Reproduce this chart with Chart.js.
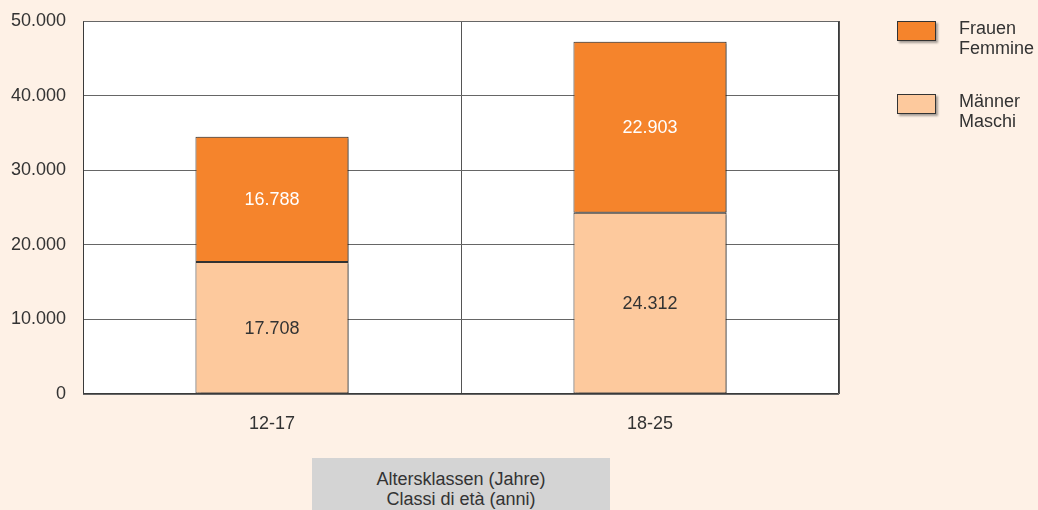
<!DOCTYPE html>
<html lang="de">
<head>
    <meta charset="UTF-8">
    <title>Altersklassen</title>
    <script src="https://cdn.jsdelivr.net/npm/chart.js"></script>
    <style>
        html, body { margin: 0; padding: 0; background: #fef1e6; overflow: hidden; }
        body { width: 1038px; height: 510px; position: relative; font-family: "Liberation Sans", Arial, sans-serif; color: #333; }
        #chart { position: absolute; left: 0; top: 0; }
        .legend { position: absolute; left: 897px; font-size: 18px; line-height: 20px; }
        .legend .box { position: absolute; left: 0; top: 1px; width: 39px; height: 20px; border: 1px solid #333; box-shadow: 2px 2px 2px rgba(0,0,0,0.35); box-sizing: border-box; }
        .legend .txt { position: absolute; left: 62px; top: -2px; white-space: nowrap; }
        #xtitle { position: absolute; left: 312px; top: 458px; width: 298px; height: 60px; background: #d4d4d4;
                  text-align: center; font-size: 18px; line-height: 20px; padding-top: 11px; box-sizing: border-box; }
    </style>
</head>
<body>
    <canvas id="chart" width="1038" height="510"></canvas>
    <div id="legend"></div>
    <div id="xtitle">Altersklassen (Jahre)<br>Classi di età (anni)</div>

    <script>
        // Daten
        const categories = ['12-17', '18-25'];
        const maenner = [17708, 24312];
        const frauen = [16788, 22903];
        const yTicks = [0, 10000, 20000, 30000, 40000, 50000];
        const seriesLabels = [['Frauen', 'Femmine'], ['Männer', 'Maschi']];

        const colFrauen = '#f5842c';
        const colMaenner = '#fdc99d';
        const FONT = '"Liberation Sans", Arial, sans-serif';

        // Zahl mit Tausenderpunkt
        function fmt(v) {
            return String(v).replace(/\B(?=(\d{3})+(?!\d))/g, '.');
        }

        // Legende
        const legend = document.getElementById('legend');
        [[seriesLabels[0], colFrauen, 20], [seriesLabels[1], colMaenner, 93]].forEach(function (it) {
            const d = document.createElement('div');
            d.className = 'legend';
            d.style.top = it[2] + 'px';
            d.innerHTML = '<div class="box" style="background:' + it[1] + '"></div><div class="txt">' + it[0].join('<br>') + '</div>';
            legend.appendChild(d);
        });

        // Hintergrund, Rahmen, Schatten und Werte
        const plotPlugin = {
            id: 'plot',
            beforeDraw(chart) {
                const a = chart.chartArea, ctx = chart.ctx;
                ctx.save();
                ctx.fillStyle = '#ffffff';
                ctx.fillRect(a.left, a.top, a.right - a.left, a.bottom - a.top);
                ctx.restore();
            },
            beforeDatasetsDraw(chart) {
                const ctx = chart.ctx;
                ctx.save();
                ctx.shadowColor = 'rgba(0,0,0,0.4)';
                ctx.shadowOffsetX = 2;
                ctx.shadowOffsetY = 0;
                ctx.shadowBlur = 1;
            },
            afterDatasetsDraw(chart) {
                const ctx = chart.ctx;
                ctx.restore();
                ctx.save();
                ctx.font = '18px ' + FONT;
                ctx.textAlign = 'center';
                ctx.textBaseline = 'middle';
                chart.data.datasets.forEach(function (ds, i) {
                    chart.getDatasetMeta(i).data.forEach(function (bar, j) {
                        ctx.fillStyle = i === 1 ? '#ffffff' : '#333333';
                        ctx.fillText(fmt(ds.data[j]), bar.x, (bar.y + bar.base) / 2 + 1);
                    });
                });
                ctx.restore();
            },
            afterDraw(chart) {
                const a = chart.chartArea, ctx = chart.ctx;
                ctx.save();
                ctx.strokeStyle = '#3a3a3a';
                ctx.lineWidth = 1;
                ctx.beginPath();
                ctx.moveTo(a.left + 0.5, a.top + 0.5);
                ctx.lineTo(a.left + 0.5, a.bottom - 0.5);
                ctx.lineTo(a.right - 0.5, a.bottom - 0.5);
                ctx.lineTo(a.right - 0.5, a.top + 0.5);
                ctx.stroke();
                ctx.restore();
            }
        };

        new Chart(document.getElementById('chart'), {
            type: 'bar',
            data: {
                labels: categories,
                datasets: [
                    { label: seriesLabels[1].join(' '), data: maenner, backgroundColor: colMaenner,
                      borderColor: '#333333', borderWidth: 1, borderSkipped: false },
                    { label: seriesLabels[0].join(' '), data: frauen, backgroundColor: colFrauen,
                      borderColor: '#333333', borderWidth: 1, borderSkipped: false }
                ]
            },
            options: {
                responsive: false,
                animation: false,
                layout: { padding: { left: 0, top: 21, right: 199, bottom: 0 } },
                plugins: { legend: { display: false }, tooltip: { enabled: false } },
                datasets: { bar: { categoryPercentage: 1, barPercentage: 0.405 } },
                scales: {
                    x: {
                        stacked: true,
                        offset: true,
                        grid: { offset: true, color: '#555555', drawTicks: false },
                        border: { display: false },
                        ticks: { padding: 19, color: '#333333', font: { size: 18, family: FONT } },
                        afterFit(s) { s.height = 116; s.paddingLeft = 0; s.paddingRight = 0; }
                    },
                    y: {
                        stacked: true,
                        min: 0,
                        max: 50000,
                        afterBuildTicks(s) { s.ticks = yTicks.map(v => ({ value: v })); },
                        grid: { color: '#666666', drawTicks: false },
                        border: { display: false },
                        ticks: { padding: 17, color: '#333333', callback: v => fmt(v),
                                 font: { size: 18, family: FONT } },
                        afterFit(s) { s.width = 83; s.paddingTop = 0; s.paddingBottom = 0; }
                    }
                }
            },
            plugins: [plotPlugin]
        });
    </script>
</body>
</html>
